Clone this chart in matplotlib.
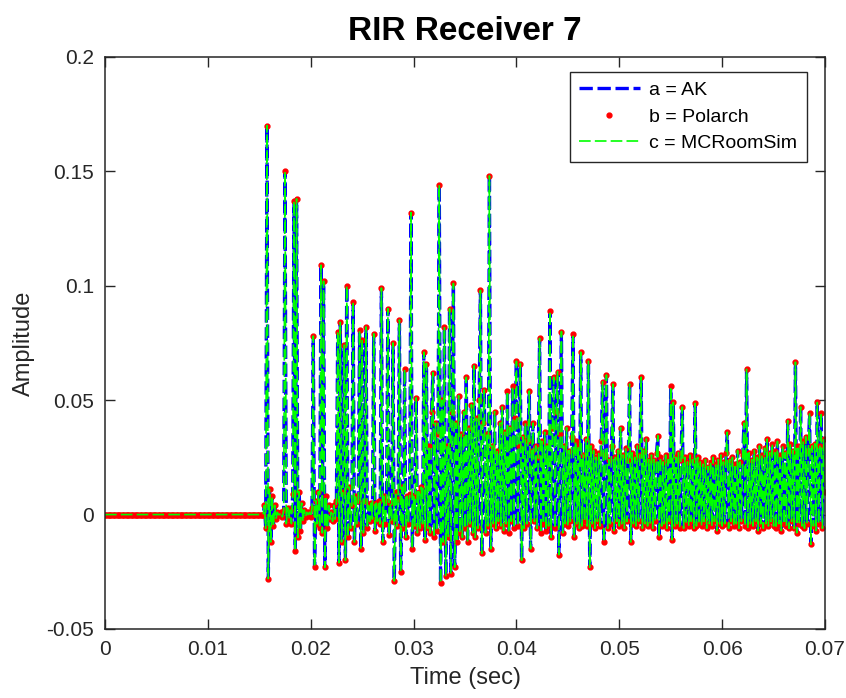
import matplotlib.pyplot as plt
import numpy as np

# amplitudes, one value every 0.125 ms
step_ms = 0.125
silence = [0.0] * 124   # 0 .. 15.375 ms, nothing before the direct sound

# 15.5 ms .. 32.875 ms (direct sound and early reflections), one row per ms
early = [
    0.004, -0.006, 0.170, -0.028,                                  # 15.5
    0.011, -0.012, 0.008, -0.005, 0.004, -0.002, 0.001, 0.0,       # 16
    0.0, 0.001, -0.001, 0.002, 0.150, -0.004, 0.003, -0.002,       # 17
    0.002, -0.004, 0.009, 0.137, -0.016, 0.138, -0.010, 0.010,     # 18
    -0.007, 0.005, -0.003, 0.002, -0.001, 0.001, 0.0, 0.001,       # 19
    -0.001, 0.003, 0.078, -0.023, 0.006, -0.004, 0.010, -0.006,    # 20
    0.109, -0.008, 0.102, -0.023, 0.008, -0.006, 0.004, -0.002,    # 21
    0.001, -0.003, 0.004, -0.002, 0.006, 0.080, -0.021, 0.084,     # 22
    -0.012, 0.010, 0.074, -0.020, 0.100, -0.010, 0.012, -0.006,    # 23
    0.004, 0.093, -0.012, 0.008, -0.004, 0.006, 0.0805, -0.015,    # 24
    0.0765, -0.008, 0.006, 0.082, -0.006, 0.004, -0.003, 0.005,    # 25
    -0.002, 0.079, -0.007, 0.005, -0.003, 0.006, -0.004, 0.099,    # 26
    -0.012, 0.008, -0.004, 0.006, 0.090, -0.009, 0.005, -0.003,    # 27
    0.075, -0.029, 0.010, -0.005, 0.007, 0.085, -0.025, 0.012,     # 28
    -0.006, 0.0635, -0.010, 0.008, -0.004, 0.009, 0.132, -0.015,   # 29
    0.008, -0.005, 0.051, -0.008, 0.010, -0.006, 0.012, -0.004,    # 30
    0.071, -0.011, 0.066, -0.006, 0.030, -0.008, 0.045, 0.062,     # 31
    -0.010, 0.040, -0.007, 0.035, 0.144, -0.030, 0.050, -0.012,    # 32
]

# 33 ms .. 70 ms (diffuse tail)
late = [
    0.082, -0.027, 0.030, -0.010, 0.090, -0.026, 0.045, 0.101,     # 33
    -0.023, 0.040, -0.012, 0.052, -0.008, 0.035, -0.010, 0.045,    # 34
    -0.006, 0.060, -0.012, 0.038, -0.004, 0.048, -0.008, 0.065,    # 35
    -0.010, 0.042, -0.006, 0.050, 0.098, -0.017, 0.040, 0.0545,    # 36
    -0.008, 0.035, -0.005, 0.148, -0.015, 0.030, -0.004, 0.045,    # 37
    -0.006, 0.028, -0.003, 0.040, -0.005, 0.047, -0.007, 0.036,    # 38
    -0.004, 0.054, -0.008, 0.038, -0.003, 0.056, -0.006, 0.042,    # 39
    0.067, -0.005, 0.030, 0.066, -0.020, 0.034, -0.006, 0.040,     # 40
    -0.004, 0.032, 0.054, -0.015, 0.028, 0.040, -0.003, 0.030,     # 41
    -0.006, 0.025, 0.077, -0.008, 0.032, -0.004, 0.036, -0.007,    # 42
    0.030, -0.005, 0.089, -0.010, 0.038, 0.060, -0.006, 0.045,     # 43
    0.0625, -0.0175, 0.035, 0.080, -0.008, 0.030, -0.004, 0.038,   # 44
    -0.005, 0.028, -0.003, 0.034, 0.079, -0.010, 0.032, -0.004,    # 45
    0.030, -0.006, 0.071, -0.005, 0.026, -0.003, 0.033, -0.005,    # 46
    0.067, -0.023, 0.030, -0.004, 0.028, -0.006, 0.025, -0.003,    # 47
    0.027, -0.005, 0.032, 0.058, -0.012, 0.026, 0.061, -0.006,     # 48
    0.024, -0.004, 0.030, 0.057, -0.007, 0.025, -0.003, 0.028,     # 49
    -0.005, 0.038, -0.004, 0.026, -0.006, 0.029, -0.003, 0.024,    # 50
    0.057, -0.012, 0.027, -0.004, 0.025, -0.005, 0.030, -0.003,    # 51
    0.026, 0.060, -0.006, 0.028, -0.004, 0.033, -0.005, 0.024,     # 52
    -0.004, 0.026, -0.006, 0.024, -0.003, 0.027, 0.0345, -0.010,   # 53
    0.025, -0.005, 0.023, -0.004, 0.026, -0.006, 0.024, -0.003,    # 54
    0.056, -0.011, 0.049, -0.005, 0.025, -0.004, 0.027, -0.006,    # 55
    0.024, 0.047, -0.006, 0.025, -0.004, 0.023, -0.005, 0.026,     # 56
    -0.003, 0.024, -0.006, 0.0486, -0.005, 0.025, -0.004, 0.023,   # 57
    -0.005, 0.022, -0.003, 0.024, -0.006, 0.021, -0.004, 0.023,    # 58
    -0.005, 0.025, -0.003, 0.022, -0.007, 0.024, -0.004, 0.026,    # 59
    -0.005, 0.023, -0.004, 0.027, 0.036, -0.006, 0.024, -0.003,    # 60
    0.025, -0.005, 0.022, -0.004, 0.028, -0.006, 0.023, -0.003,    # 61
    0.026, 0.040, -0.005, 0.0635, -0.006, 0.027, -0.004, 0.024,    # 62
    -0.005, 0.028, -0.003, 0.025, -0.007, 0.030, -0.004, 0.026,    # 63
    -0.006, 0.029, -0.004, 0.033, -0.005, 0.027, -0.003, 0.031,    # 64
    -0.005, 0.028, -0.006, 0.032, -0.004, 0.026, -0.007, 0.030,    # 65
    -0.004, 0.027, -0.005, 0.041, -0.006, 0.031, -0.003, 0.028,    # 66
    -0.006, 0.0666, -0.008, 0.030, -0.004, 0.047, -0.005, 0.032,   # 67
    -0.006, 0.034, -0.004, 0.028, 0.0445, -0.013, 0.030, -0.005,   # 68
    0.031, -0.007, 0.049, -0.004, 0.030, 0.0445, -0.006, 0.033,    # 69
    0.010,                                                         # 70
]

rir_ak = silence + early + late
rir_polarch = list(rir_ak)      # the three simulations overlap at this scale
rir_mcroomsim = list(rir_ak)

x_ticks = [0, 0.01, 0.02, 0.03, 0.04, 0.05, 0.06, 0.07]
x_tick_labels = ["0", "0.01", "0.02", "0.03", "0.04", "0.05", "0.06", "0.07"]
y_ticks = [-0.05, 0, 0.05, 0.1, 0.15, 0.2]
y_tick_labels = ["-0.05", "0", "0.05", "0.1", "0.15", "0.2"]

t = np.arange(len(rir_ak)) * step_ms / 1000.0

plt.rcParams["font.family"] = ["Liberation Sans", "DejaVu Sans"]
dark = "#262626"

fig = plt.figure(figsize=(8.46, 6.98), dpi=100)
ax = fig.add_axes([0.1241, 0.0989, 0.8511, 0.8195])

ax.plot(t, rir_ak, color="blue", lw=2.4, ls=(0, (4.0, 1.4)), label="a = AK")
ax.plot(t, rir_polarch, ls="none", marker=".", ms=7, color="red", label="b = Polarch")
ax.plot(t, rir_mcroomsim, color=(0.0, 1.0, 0.0), lw=1.2, ls=(0, (7, 2.5)), label="c = MCRoomSim")

ax.set_xlim(0, 0.07)
ax.set_ylim(-0.05, 0.2)
ax.set_xticks(x_ticks)
ax.set_xticklabels(x_tick_labels)
ax.set_yticks(y_ticks)
ax.set_yticklabels(y_tick_labels)
ax.tick_params(direction="in", top=True, right=True, length=7, width=1,
               labelsize=15, colors=dark, pad=8)
for s in ax.spines.values():
    s.set_color(dark)
    s.set_linewidth(1.1)

ax.set_xlabel("Time (sec)", fontsize=17, color=dark, labelpad=6)
ax.set_ylabel("Amplitude", fontsize=17, color=dark, labelpad=8)
ax.set_title("RIR Receiver 7", fontsize=24, fontweight="bold", pad=12)

leg = ax.legend(loc="upper right", fontsize=14, fancybox=False, framealpha=1,
                edgecolor=dark, handlelength=3.1, handletextpad=0.5,
                labelspacing=0.45, borderpad=0.5, borderaxespad=0,
                bbox_to_anchor=(0.975, 0.974))
leg.get_frame().set_linewidth(1.0)

fig.savefig("out.png", dpi=100)
